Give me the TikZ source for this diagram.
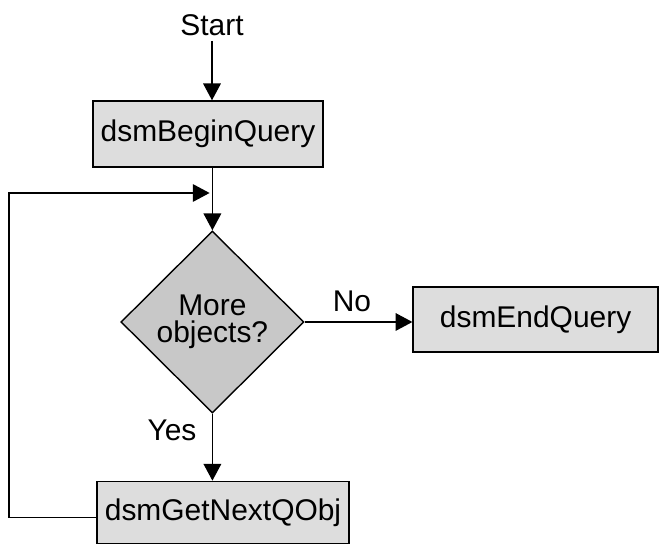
\documentclass[tikz,border=0pt]{standalone}
\usepackage{fontspec}
\setmainfont{Liberation Sans}
\usetikzlibrary{arrows.meta,shapes.geometric}
\definecolor{boxGray}{RGB}{221,221,221}
\definecolor{decGray}{RGB}{200,200,200}

\begin{document}
\begin{tikzpicture}[
    font=\fontsize{21.3}{25}\selectfont,
    procbox/.style={draw, line width=1pt, fill=boxGray, minimum width=#1, minimum height=1.6cm, inner sep=0pt},
    decision/.style={diamond, draw, line width=1pt, fill=decGray, minimum width=4.575cm, minimum height=4.55cm, inner sep=0pt, align=center, font=\fontsize{21.3}{19.5}\selectfont},
    flow/.style={line width=1pt, -{Triangle[length=0.42cm,width=0.44cm]}}
  ]
    \useasboundingbox (0,0) rectangle (16.5,13.6);

    % Start of the query
    \node[anchor=base] (start) at (5.3,12.71) {Start};
    \node[procbox=5.75cm, minimum height=1.65cm] (begin) at (5.2,10.25) {dsmBeginQuery};

    % Test for more objects
    \node[decision] (more) at (5.31,5.55) {More\\objects?};
    \node[procbox=6.125cm, minimum height=1.625cm] (end) at (13.39,5.6125) {dsmEndQuery};
    \node[procbox=6.3cm, minimum height=1.55cm] (next) at (5.575,0.79) {dsmGetNextQObj};

    % Branch labels
    \node[anchor=base] (nolbl) at (8.8,5.8) {No};
    \node[anchor=base] (yeslbl) at (4.3,2.575) {Yes};

    % Connectors
    \draw[flow] (start.south) -- (start.south |- begin.north);
    \draw[flow] (more.north |- begin.south) -- (more.north);
    \draw[flow] (more.east) -- (more.east -| end.west);
    \draw[flow] (more.south) -- (more.south |- next.north);

    % Loop back to the test
    \coordinate (loopcorner) at (0.225,8.775);
    \draw[flow, shorten >=0.7mm] ([yshift=-1.25mm]next.west) -| (loopcorner) -- (loopcorner -| more.north);
  \end{tikzpicture}
\end{document}
